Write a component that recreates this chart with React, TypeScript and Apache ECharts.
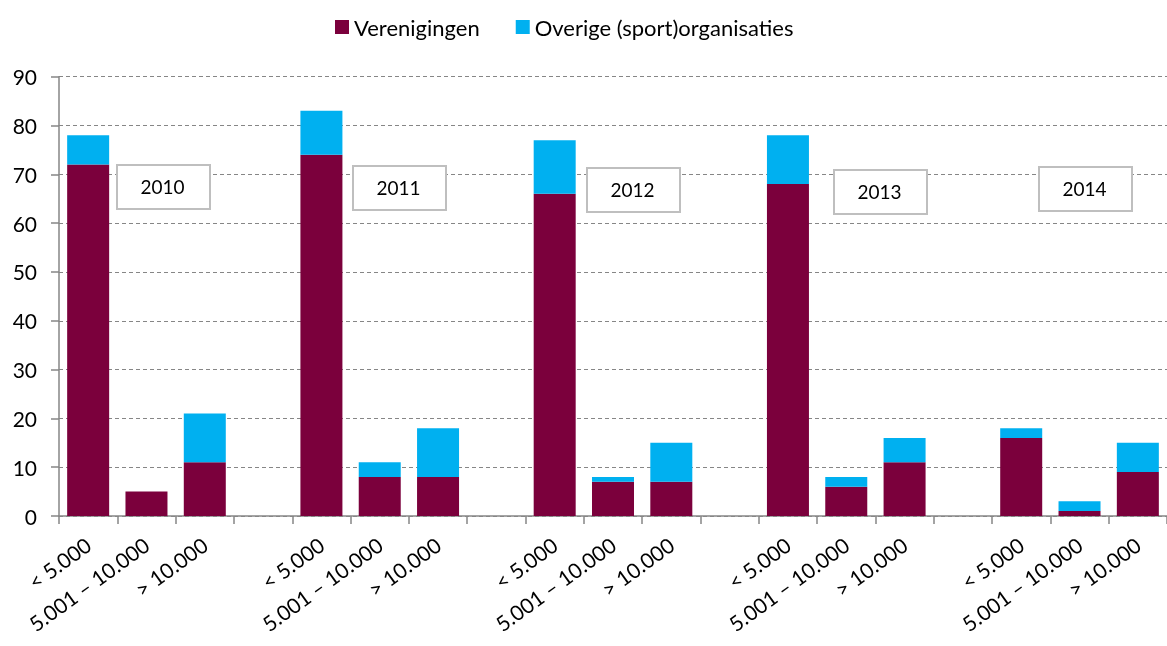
import React, { useEffect, useRef } from "react";
import * as echarts from "echarts";

const categories = [
  "< 5.000", "5.001 – 10.000", "> 10.000", "",
  "< 5.000", "5.001 – 10.000", "> 10.000", "",
  "< 5.000", "5.001 – 10.000", "> 10.000", "",
  "< 5.000", "5.001 – 10.000", "> 10.000", "",
  "< 5.000", "5.001 – 10.000", "> 10.000",
];
const verenigingen = [72, 5, 11, null, 74, 8, 8, null, 66, 7, 7, null, 68, 6, 11, null, 16, 1, 9];
const overige = [6, 0, 10, null, 9, 3, 10, null, 11, 1, 8, null, 10, 2, 5, null, 2, 2, 6];
const yearLabels = ["2010", "2011", "2012", "2013", "2014"];
const yTicks = { min: 0, max: 90, interval: 10 };

const boxPos = [
  [116, 164],
  [352, 165],
  [586, 167],
  [833, 169],
  [1038, 166],
];

export default function App() {
  const ref = useRef<HTMLDivElement>(null);
  useEffect(() => {
    if (!ref.current) return;
    const chart = echarts.init(ref.current, null, { renderer: "svg" });
    const font = "Lato, 'Open Sans', sans-serif";
    const graphics: any[] = [];
    yearLabels.forEach((y, i) => {
      const [x, t] = boxPos[i];
      graphics.push({
        type: "rect",
        left: x,
        top: t,
        z: 100,
        shape: { width: 93, height: 44 },
        style: { fill: "#fff", stroke: "#bfbfbf", lineWidth: 2 },
      });
      graphics.push({
        type: "text",
        x: x + 46.5,
        y: t + 22,
        z: 101,
        style: {
          text: y,
          font: `19px ${font}`,
          fill: "#000",
          align: "center",
          verticalAlign: "middle",
        },
      });
    });
    chart.setOption({
      animation: false,
      textStyle: { fontFamily: font },
      legend: {
        top: 11,
        left: 330,
        itemWidth: 14,
        itemHeight: 14,
        itemGap: 36,
        icon: "rect",
        textStyle: { fontSize: 22, color: "#000", fontFamily: font },
        data: ["Verenigingen", "Overige (sport)organisaties"],
      },
      grid: { left: 59, top: 76.7, width: 1111, height: 439.3 },
      xAxis: {
        type: "category",
        data: categories,
        axisLine: { lineStyle: { color: "#868686", width: 1.5 } },
        axisTick: { show: true, interval: 0, length: 8, lineStyle: { color: "#868686", width: 1.5 } },
        axisLabel: {
          interval: 0,
          rotate: 36,
          fontSize: 21,
          color: "#000",
          margin: 26,
          fontFamily: font,
        },
      },
      yAxis: {
        type: "value",
        min: yTicks.min,
        max: yTicks.max,
        interval: yTicks.interval,
        axisLine: { show: true, lineStyle: { color: "#868686", width: 1.5 } },
        axisTick: { show: true, length: 8, lineStyle: { color: "#868686", width: 1.5 } },
        axisLabel: { fontSize: 21, color: "#000", margin: 22, fontFamily: font },
        splitLine: { lineStyle: { color: "#868686", type: [4, 3], width: 1.2 } },
      },
      series: [
        {
          name: "Verenigingen",
          type: "bar",
          stack: "a",
          barWidth: 42,
          data: verenigingen,
          itemStyle: { color: "#7B003C" },
        },
        {
          name: "Overige (sport)organisaties",
          type: "bar",
          stack: "a",
          barWidth: 42,
          data: overige,
          itemStyle: { color: "#00B0F0" },
        },
      ],
      graphic: graphics,
    });
    return () => chart.dispose();
  }, []);
  return (
    <div
      ref={ref}
      style={{ position: "fixed", left: 0, top: 0, width: 1167, height: 646 }}
    />
  );
}
